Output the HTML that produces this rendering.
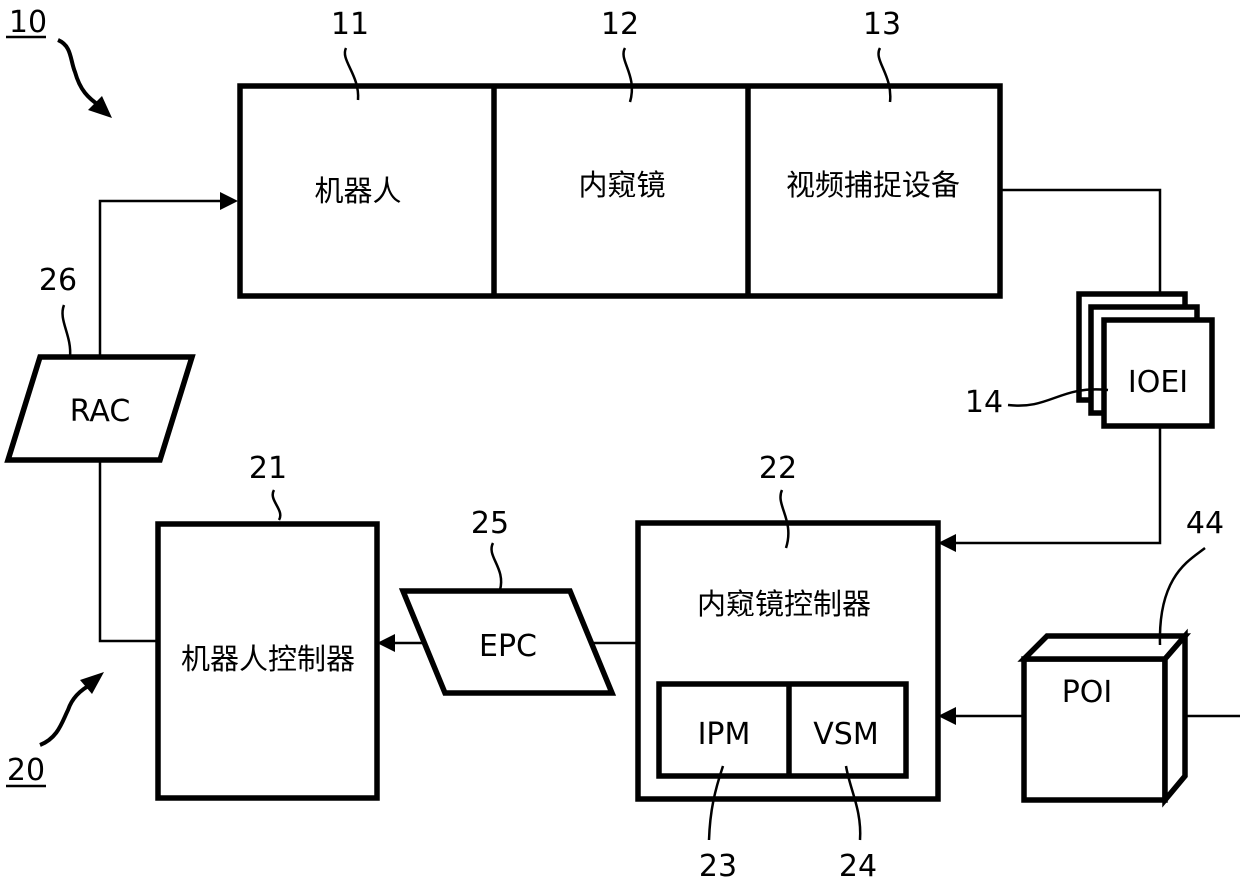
<!DOCTYPE html>
<html><head><meta charset="utf-8"><style>
html,body{margin:0;padding:0;background:#fff;}
svg{display:block;}
text{font-family:"DejaVu Sans","Liberation Sans","Noto Sans CJK SC",sans-serif;fill:#000;}
</style></head><body>
<svg width="1240" height="887" viewBox="0 0 1240 887" xmlns="http://www.w3.org/2000/svg">
<g fill="none" stroke="#000" stroke-width="2.5">
<polyline points="100,357 100,201 224,201"/>
<polyline points="100,460 100,641 158,641"/>
<line x1="638" y1="643" x2="392" y2="643"/>
<polyline points="1000,190 1160,190 1160,294"/>
<polyline points="1160,426 1160,543 953,543"/>
<line x1="1024" y1="716" x2="953" y2="716"/>
<line x1="1185" y1="716" x2="1240" y2="716"/>
</g>
<g fill="none" stroke="#000" stroke-width="5.5" stroke-linejoin="miter">
<rect x="240" y="86" width="760" height="210"/>
<line x1="494" y1="86" x2="494" y2="296"/>
<line x1="748" y1="86" x2="748" y2="296"/>
<rect x="158" y="524" width="219" height="274"/>
<rect x="638" y="523" width="300" height="276"/>
<rect x="659" y="684" width="247" height="92"/>
<line x1="789" y1="684" x2="789" y2="776"/>
<polygon points="40,357 192,357 160,460 8,460" fill="#fff"/>
<polygon points="403,591 570,591 612,693 445,693" fill="#fff"/>
<rect x="1079" y="294" width="106" height="106" fill="#fff"/>
<rect x="1091" y="307" width="106" height="106" fill="#fff"/>
<rect x="1104" y="320" width="108" height="106" fill="#fff"/>
<rect x="1024" y="659" width="141" height="141" fill="#fff"/>
<polygon points="1024,659 1047,636 1185,636 1165,659" fill="#fff"/>
<polygon points="1165,659 1185,636 1185,776 1165,800" fill="#fff"/>
</g>
<g fill="none" stroke="#000" stroke-width="2.5">
<path d="M346,48 C340,60 360,75 358,100"/>
<path d="M625,48 C618,60 638,75 630,102"/>
<path d="M880,48 C873,60 893,75 890,102"/>
<path d="M64,305 C58,320 72,335 70,357"/>
<path d="M274,490 C268,500 285,510 279,520"/>
<path d="M493,543 C486,556 506,568 500,590"/>
<path d="M782,490 C775,505 795,520 786,548"/>
<path d="M1205,548 C1190,560 1158,575 1160,645"/>
<path d="M723,766 C715,790 710,810 709,840"/>
<path d="M846,766 C850,790 862,810 860,840"/>
<path d="M1008,405 C1050,410 1060,385 1108,390"/>
</g>
<g fill="none" stroke="#000" stroke-width="4">
<path d="M58,40 C72,46 70,60 75,72 C80,90 88,98 100,106"/>
<path d="M40,745 C58,738 62,722 68,710 C72,698 80,690 92,684"/>
</g>
<g fill="#000">
<polygon points="238,201 220,192 220,210"/>
<polygon points="377,643 395,634 395,652"/>
<polygon points="938,543 956,534 956,552"/>
<polygon points="938,716 956,707 956,725"/>
<polygon points="112,118 88,110 102,96"/>
<polygon points="104,672 92,694 80,680"/>
</g>
<g font-size="30" text-anchor="middle">
<text x="350" y="34">11</text>
<text x="620" y="34">12</text>
<text x="882" y="34">13</text>
<text x="58" y="290">26</text>
<text x="268" y="478">21</text>
<text x="490" y="533">25</text>
<text x="778" y="478">22</text>
<text x="1205" y="533">44</text>
<text x="718" y="876">23</text>
<text x="858" y="876">24</text>
<text x="984" y="412">14</text>
<text x="28" y="32">10</text>
<text x="26" y="780">20</text>
<text x="100" y="421">RAC</text>
<text x="508" y="656">EPC</text>
<text x="724" y="744">IPM</text>
<text x="846" y="744">VSM</text>
<text x="1158" y="392">IOEI</text>
<text x="1087" y="702">POI</text>
</g>
<g stroke="#000" stroke-width="2.5"><line x1="6" y1="37" x2="46" y2="37"/><line x1="6" y1="786" x2="46" y2="786"/></g>
<g font-size="29" text-anchor="middle" style="font-family:'Noto Sans CJK SC',sans-serif">
<text x="358" y="201">机器人</text>
<text x="622" y="195">内窥镜</text>
<text x="873" y="195">视频捕捉设备</text>
<text x="268" y="669">机器人控制器</text>
<text x="784" y="614">内窥镜控制器</text>
</g>
</svg>
</body></html>
